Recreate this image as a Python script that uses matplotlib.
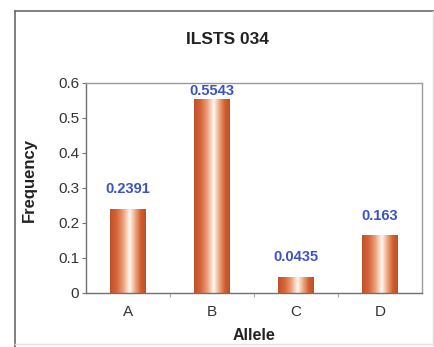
import numpy as np
import matplotlib
matplotlib.use("Agg")
import matplotlib.pyplot as plt
from matplotlib.colors import LinearSegmentedColormap
from matplotlib.lines import Line2D

alleles = ["A", "B", "C", "D"]
frequency = [0.2391, 0.5543, 0.0435, 0.163]
value_labels = ["0.2391", "0.5543", "0.0435", "0.163"]
y_ticks = [0, 0.1, 0.2, 0.3, 0.4, 0.5, 0.6]
y_tick_labels = ["0", "0.1", "0.2", "0.3", "0.4", "0.5", "0.6"]

plt.rcParams["font.family"] = ["Liberation Sans", "DejaVu Sans"]

fig = plt.figure(figsize=(4.35, 3.47), dpi=100)
fig.patch.set_facecolor("white")
ax = fig.add_axes([0.198, 0.156, 0.772, 0.605])

# copper cylinder shading across each bar
copper = LinearSegmentedColormap.from_list(
    "copper_cyl",
    [(0.0, "#c0502a"), (0.18, "#d6643a"), (0.35, "#ea9870"),
     (0.55, "#fff8f0"), (0.72, "#eaa07a"), (0.86, "#d05e2e"), (1.0, "#bf4f28")])
shade = np.linspace(0, 1, 256).reshape(1, -1)

x = np.arange(len(alleles)) + 0.5
width = 0.42
ymax = 0.6
bars = ax.bar(x, frequency, width=width, color="none", edgecolor="none")
for rect in bars:
    x0 = rect.get_x()
    h = rect.get_height()
    ax.imshow(shade, cmap=copper, aspect="auto", interpolation="bilinear",
              extent=(x0, x0 + rect.get_width(), 0, h), zorder=2)

# value labels sit above each bar, kept inside the plot area
for xi, v, lab in zip(x, frequency, value_labels):
    ly = min(v + 0.058, ymax - 0.023)
    ax.text(xi, ly, lab, ha="center", va="center", color="#3b52c4",
            fontsize=10.5, fontweight="bold", zorder=3)

ax.set_xlim(0, len(alleles))
ax.set_ylim(0, ymax)
ax.set_yticks(y_ticks)
ax.set_yticklabels(y_tick_labels)
ax.set_xticks(x)
ax.set_xticklabels(alleles)
ax.set_xticks(np.arange(1, len(alleles)), minor=True)
ax.tick_params(axis="x", which="major", length=0, pad=9, labelsize=11,
               labelcolor="#333333")
ax.tick_params(axis="x", which="minor", length=3, direction="out",
               color="#909090")
ax.tick_params(axis="y", length=3, direction="out", color="#707070",
               labelsize=11, labelcolor="#333333", pad=2)

for side in ["left", "bottom"]:
    ax.spines[side].set_color("#707070")
    ax.spines[side].set_linewidth(1.0)
for side in ["top", "right"]:
    ax.spines[side].set_color("#9a9a9a")
    ax.spines[side].set_linewidth(1.0)

fig.text(29 / 435, 1 - 180 / 347, "Frequency", rotation=90, ha="center",
         va="center", fontsize=12, fontweight="bold", color="#222222")
fig.text(254 / 435, 1 - 335 / 347, "Allele", ha="center", va="center",
         fontsize=11.5, fontweight="bold", color="#222222")
fig.text(227 / 435, 1 - 40 / 347, "ILSTS 034", ha="center", va="center",
         fontsize=12.5, fontweight="bold", color="#222222")

# outer chart frame
fig.add_artist(Line2D([15 / 435, 15 / 435], [0, 1 - 11 / 347],
                      transform=fig.transFigure, color="#6a6a6a", lw=1.2))
fig.add_artist(Line2D([15 / 435, 434 / 435], [1 - 11 / 347, 1 - 11 / 347],
                      transform=fig.transFigure, color="#6a6a6a", lw=1.2))
fig.add_artist(Line2D([433 / 435, 433 / 435], [2 / 347, 1 - 11 / 347],
                      transform=fig.transFigure, color="#dddddd", lw=1.0))
fig.add_artist(Line2D([15 / 435, 434 / 435], [3 / 347, 3 / 347],
                      transform=fig.transFigure, color="#e4e4e4", lw=1.0))

fig.savefig("out.png", dpi=100, facecolor="white")
